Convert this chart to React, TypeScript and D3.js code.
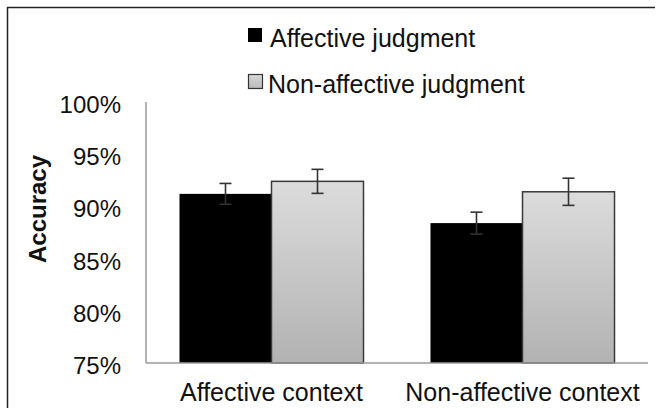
import React from "react";
import * as d3 from "d3";

const categories = ["Affective context", "Non-affective context"];
const seriesNames = ["Affective judgment", "Non-affective judgment"];
const affectiveValues = [91.2, 88.4];
const affectiveErrors = [1.0, 1.05];
const nonAffectiveValues = [92.4, 91.4];
const nonAffectiveErrors = [1.15, 1.3];
const yTicks = [75, 80, 85, 90, 95, 100];

const W = 662;
const H = 408;
const left = 146;
const right = 648;
const top = 102;
const bottom = 363;
const FONT = "'Liberation Sans', Arial, Helvetica, sans-serif";

export default function App() {
  const y = d3.scaleLinear().domain([75, 100]).range([bottom, top]);
  const x0 = d3.scaleBand<string>().domain(categories).range([left, right]).padding(0);
  const x1 = d3
    .scaleBand<string>()
    .domain(seriesNames)
    .range([0, x0.bandwidth()])
    .paddingInner(0)
    .paddingOuter(0.364);

  const series = [
    { name: seriesNames[0], values: affectiveValues, errors: affectiveErrors, fill: "#000000" },
    { name: seriesNames[1], values: nonAffectiveValues, errors: nonAffectiveErrors, fill: "url(#grayGrad)" },
  ];

  return (
    <svg
      width={W}
      height={H}
      style={{ position: "absolute", left: 0, top: 0, display: "block", background: "#fff" }}
    >
      <defs>
        <linearGradient id="grayGrad" x1="0" y1="0" x2="0" y2="1">
          <stop offset="0%" stopColor="#dcdcdc" />
          <stop offset="100%" stopColor="#b2b2b2" />
        </linearGradient>
        <linearGradient id="legGrad" x1="0" y1="0" x2="0" y2="1">
          <stop offset="0%" stopColor="#d8d8d8" />
          <stop offset="100%" stopColor="#b8b8b8" />
        </linearGradient>
      </defs>
      <rect x={0} y={0} width={W} height={H} fill="#fff" />
      {/* frame */}
      <line x1={7} y1={7.5} x2={655} y2={7.5} stroke="#222" strokeWidth={1.5} />
      <line x1={7.5} y1={7} x2={7.5} y2={H} stroke="#222" strokeWidth={1.5} />

      {/* legend */}
      <g fontFamily={FONT} fontSize={25} fill="#111">
        <rect x={248} y={28} width={14} height={14} fill="#000" />
        <text x={270} y={47}>{seriesNames[0]}</text>
        <rect x={248.5} y={74.5} width={14} height={14} fill="url(#legGrad)" stroke="#333" strokeWidth={1.2} />
        <text x={268} y={93}>{seriesNames[1]}</text>
      </g>

      {/* y-axis label */}
      <text
        transform={`translate(46, 209) rotate(-90)`}
        textAnchor="middle"
        fontFamily={FONT}
        fontWeight="bold"
        fontSize={24}
        fill="#111"
      >
        Accuracy
      </text>

      {/* y tick labels */}
      <g fontFamily={FONT} fontSize={24} fill="#111" textAnchor="end">
        {yTicks.map((t) => (
          <text key={t} x={121} y={y(t) + 11}>
            {`${t}%`}
          </text>
        ))}
      </g>

      {/* bars */}
      {series.map((s) => (
        <g key={s.name}>
          {categories.map((c, i) => {
            const bx = (x0(c) ?? 0) + (x1(s.name) ?? 0);
            const by = y(s.values[i]);
            return (
              <rect
                key={c}
                x={bx}
                y={by}
                width={x1.bandwidth()}
                height={bottom - by}
                fill={s.fill}
                stroke={s.fill === "#000000" ? "none" : "#3a3a3a"}
                strokeWidth={1.5}
              />
            );
          })}
        </g>
      ))}

      {/* error bars */}
      {series.map((s) => (
        <g key={s.name + "-err"} stroke="#333" strokeWidth={1.6}>
          {categories.map((c, i) => {
            const cx = (x0(c) ?? 0) + (x1(s.name) ?? 0) + x1.bandwidth() / 2;
            const hi = y(s.values[i] + s.errors[i]);
            const lo = y(s.values[i] - s.errors[i]);
            return (
              <g key={c}>
                <line x1={cx} x2={cx} y1={hi} y2={lo} />
                <line x1={cx - 6} x2={cx + 6} y1={hi} y2={hi} />
                <line x1={cx - 6} x2={cx + 6} y1={lo} y2={lo} />
              </g>
            );
          })}
        </g>
      ))}

      {/* axes */}
      <line x1={left} x2={left} y1={top} y2={bottom} stroke="#9a9a9a" strokeWidth={1.5} />
      <line x1={left} x2={right} y1={bottom} y2={bottom} stroke="#9a9a9a" strokeWidth={1.5} />

      {/* x category labels */}
      <g fontFamily={FONT} fontSize={25} fill="#111" textAnchor="middle">
        {categories.map((c) => (
          <text key={c} x={(x0(c) ?? 0) + x0.bandwidth() / 2} y={401}>
            {c}
          </text>
        ))}
      </g>
    </svg>
  );
}
